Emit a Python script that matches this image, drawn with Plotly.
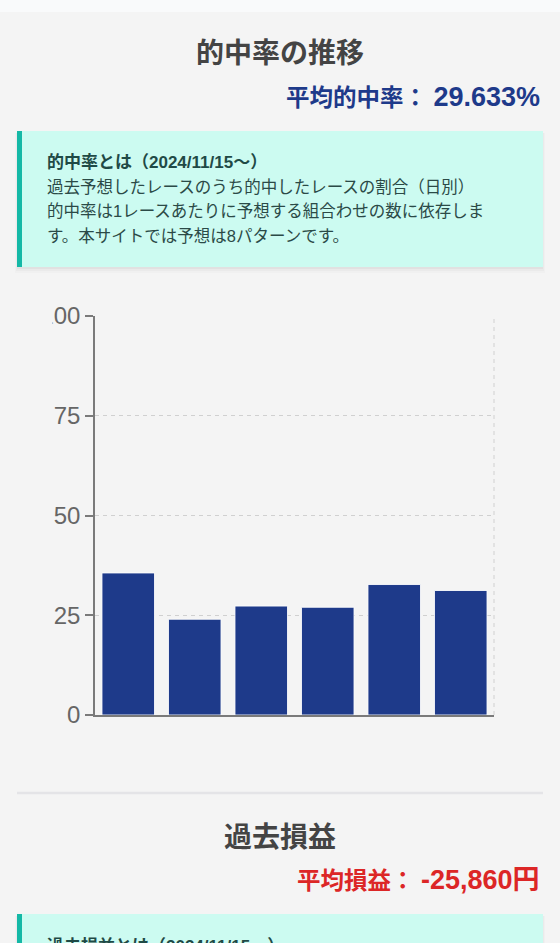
import plotly.graph_objects as go

W, H = 560, 943

# ---- data ----
categories = ["1", "2", "3", "4", "5", "6"]
hit_rates = [35.6, 24.0, 27.3, 27.0, 32.7, 31.2]
y_ticks = [0, 25, 50, 75, 100]
y_tick_labels = ["0", "25", "50", "75", "100"]

title1 = "的中率の推移"
avg_label1 = "平均的中率："
avg_value1 = "29.633%"
note_title1 = "的中率とは（2024/11/15〜）"
note_lines1 = [
    "過去予想したレースのうち的中したレースの割合（日別）",
    "的中率は1レースあたりに予想する組合わせの数に依存しま",
    "す。本サイトでは予想は8パターンです。",
]
title2 = "過去損益"
avg_label2 = "平均損益："
avg_value2 = "-25,860円"
note_title2 = "過去損益とは（2024/11/15〜）"

# ---- styles ----
BG = "#f4f4f4"
NAVY = "#1e3a8a"
RED = "#dc2626"
TEAL = "#14b8a6"
MINT = "#ccfbf1"
TITLE_C = "#444444"
NOTE_C = "#1f4a46"
FONT = "Liberation Sans, Noto Sans CJK JP"


def px(x):
    return x / W


def py(y):
    return 1 - y / H


fig = go.Figure()
fig.add_trace(go.Bar(
    x=categories, y=hit_rates,
    marker=dict(color=NAVY, line=dict(color="rgba(255,255,255,0.85)", width=1)),
    hoverinfo="skip",
))

shapes = []
# top strip
shapes.append(dict(type="rect", xref="paper", yref="paper", x0=0, x1=1, y0=py(12), y1=1,
                   fillcolor="#f9fafb", line=dict(width=0), layer="below"))


def note_box(top, bottom):
    out = []
    for i, a in enumerate([0.035, 0.025, 0.015]):
        out.append(dict(type="rect", xref="paper", yref="paper",
                        x0=px(17 - i), x1=px(543 + i), y0=py(min(bottom + 2 + 2 * i, H)), y1=py(top + 2),
                        fillcolor=f"rgba(0,0,0,{a})", line=dict(width=0), layer="below"))
    out.append(dict(type="rect", xref="paper", yref="paper", x0=px(17), x1=px(543),
                    y0=py(bottom), y1=py(top), fillcolor=MINT, line=dict(width=0), layer="below"))
    out.append(dict(type="rect", xref="paper", yref="paper", x0=px(17), x1=px(22),
                    y0=py(bottom), y1=py(top), fillcolor=TEAL, line=dict(width=0), layer="below"))
    return out


shapes += note_box(131, 267)
shapes += note_box(914, H)
# divider
shapes.append(dict(type="line", xref="paper", yref="paper", x0=px(17), x1=px(543),
                   y0=py(793), y1=py(793), line=dict(color="#e4e4e7", width=2.5), layer="below"))
# right dashed border of chart
shapes.append(dict(type="line", xref="paper", yref="paper", x0=px(494), x1=px(494),
                   y0=py(715), y1=py(316), line=dict(color="#d0d0d0", width=1, dash="4px,4px"),
                   layer="below"))
# clip of the leftmost tick label area
shapes.append(dict(type="rect", xref="paper", yref="paper", x0=0, x1=px(52.5),
                   y0=py(334), y1=py(298), fillcolor=BG, line=dict(width=0), layer="above"))

ann = []


def text(x, y, s, size, color, xanchor="left", bold=False):
    ann.append(dict(xref="paper", yref="paper", x=px(x), y=py(y), xanchor=xanchor, yanchor="middle",
                    text=(f"<b>{s}</b>" if bold else s), showarrow=False,
                    font=dict(family=FONT, size=size, color=color)))


text(280, 53, title1, 28, TITLE_C, "center", True)
ann.append(dict(xref="paper", yref="paper", x=px(542), y=py(97), xanchor="right", yanchor="middle",
                showarrow=False, font=dict(family=FONT, size=23.5, color=NAVY),
                text=f"<b>{avg_label1} <span style='font-size:27px'>{avg_value1}</span></b>"))
text(45, 162, note_title1, 17, NOTE_C, bold=True)
for i, line in enumerate(note_lines1):
    text(45, 186.5 + 24.5 * i, line, 16.5, "#2b4a47")

text(280, 837, title2, 28, TITLE_C, "center", True)
ann.append(dict(xref="paper", yref="paper", x=px(542), y=py(880), xanchor="right", yanchor="middle",
                showarrow=False, font=dict(family=FONT, size=23.5, color=RED),
                text=f"<b>{avg_label2} <span style='font-size:27px'>{avg_value2}</span></b>"))
text(45, 946, note_title2, 17, NOTE_C, bold=True)

fig.update_layout(
    width=W, height=H,
    margin=dict(l=0, r=0, t=0, b=0, pad=0, autoexpand=False),
    paper_bgcolor=BG, plot_bgcolor=BG,
    showlegend=False,
    bargap=0.21,
    shapes=shapes,
    annotations=ann,
    xaxis=dict(domain=[px(95), px(494)], range=[-0.5, 5.5], showline=True, linecolor="#7a7a7a",
               linewidth=2, showticklabels=False, ticks="", showgrid=False, zeroline=False,
               fixedrange=True, automargin=False),
    yaxis=dict(domain=[py(715), py(316)], range=[0, 100], tickvals=y_ticks, ticktext=y_tick_labels,
               showline=True, linecolor="#7a7a7a", linewidth=1.5, ticks="outside", ticklen=8,
               tickcolor="#7a7a7a", tickwidth=1.5, showgrid=True, gridcolor="#d0d0d0", gridwidth=1,
               griddash="4px,4px", zeroline=False, fixedrange=True, automargin=False,
               tickfont=dict(family="Liberation Sans", size=24, color="#666666")),
)

fig.write_html("out.html", config={"displayModeBar": False},
               post_script="document.documentElement.style.overflow='hidden';"
                           "document.body.style.margin='0';document.body.style.overflow='hidden';")
